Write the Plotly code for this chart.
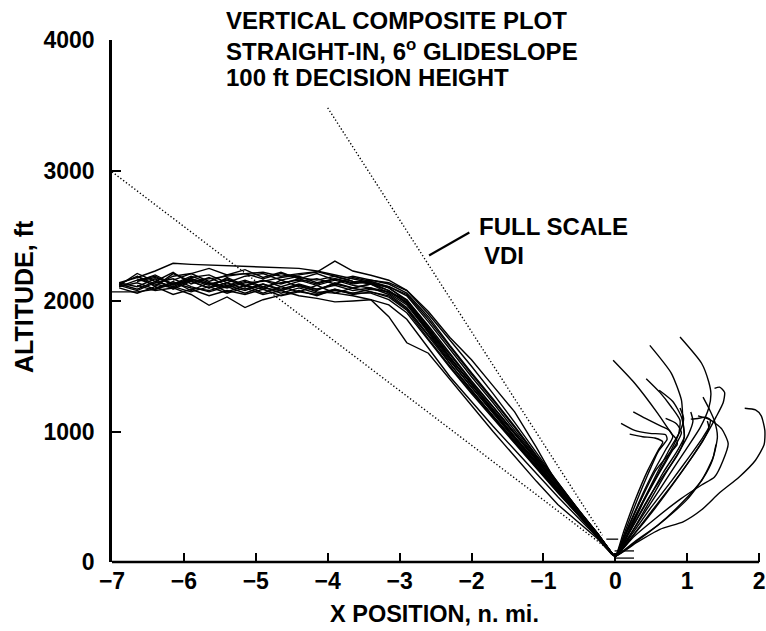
import plotly.graph_objects as go

# ---------------- data ----------------
# common x positions (n. mi.) for the approach part of each run
APPROACH_X = [-7.0, -6.9, -6.65, -6.4, -6.15, -5.9, -5.65, -5.4, -5.15, -4.9, -4.65, -4.4,
              -4.15, -3.9, -3.65, -3.4, -3.15, -2.9, -2.6, -2.3, -2.0, -1.7, -1.4, -1.1,
              -0.8, -0.5, -0.25, -0.05]

# altitude (ft) of each run along APPROACH_X (None = run not yet started)
RUN_01_Y = [None, 2130, 2190, 2110, 2210, 2150, 2100, 2180, 2120, 2090, 2160, 2110, 2080, 2140, 2100, 2130, 2060, 1970, 1760, 1550, 1340, 1150, 950, 760, 560, 370, 210, 70]
RUN_02_Y = [2070, 2070, 2070, 2090, 2150, 2080, 2140, 2070, 2120, 2060, 2110, 2070, 2120, 2060, 2100, 2070, 2040, 1940, 1730, 1520, 1320, 1120, 930, 740, 550, 360, 200, 65]
RUN_03_Y = [None, 2140, 2180, 2230, 2289, 2281, 2276, 2273, 2270, 2262, 2255, 2250, 2230, 2200, 2170, 2140, 2100, 2010, 1810, 1600, 1390, 1190, 990, 790, 590, 390, 220, 70]
RUN_04_Y = [None, None, 2120, 2080, 2100, 2050, 1967, 2031, 1950, 2010, 2045, 2080, 2040, 2090, 2060, 2060, 2010, 1910, 1700, 1490, 1290, 1100, 910, 720, 530, 350, 200, 65]
RUN_05_Y = [None, None, None, 2150, 2110, 2170, 2130, 2100, 2140, 2150, 2180, 2200, 2222, 2306, 2230, 2197, 2159, 2082, 1920, 1720, 1550, 1350, 1150, 880, 590, 380, 220, 70]
RUN_06_Y = [None, 2110, 2160, 2190, 2120, 2180, 2200, 2140, 2190, 2210, 2160, 2190, 2140, 2170, 2130, 2150, 2110, 2040, 1840, 1630, 1420, 1220, 1010, 800, 590, 380, 215, 70]
RUN_07_Y = [None, 2120, 2211, 2150, 2220, 2130, 2180, 2120, 2160, 2110, 2140, 2160, 2120, 2160, 2120, 2100, 2050, 1950, 1740, 1540, 1340, 1140, 940, 750, 550, 360, 200, 65]
RUN_08_Y = [None, 2100, 2060, 2110, 2050, 2090, 2040, 2080, 2050, 2090, 2040, 2070, 2050, 2080, 2060, 2090, 2070, 2010, 1800, 1570, 1360, 1160, 960, 770, 570, 380, 215, 70]
RUN_09_Y = [None, None, 2150, 2200, 2130, 2190, 2140, 2110, 2150, 2100, 2080, 2120, 2070, 2060, 2040, 2010, 1880, 1680, 1600, 1400, 1200, 1000, 810, 620, 440, 300, 180, 60]
RUN_10_Y = [None, 2130, 2090, 2150, 2110, 2070, 2110, 2060, 2100, 2050, 2080, 2040, 2020, 1993, 2000, 2010, 1970, 1860, 1640, 1420, 1230, 1040, 860, 680, 500, 330, 190, 60]
RUN_11_Y = [None, None, None, None, 2160, 2210, 2250, 2200, 2240, 2180, 2220, 2170, 2210, 2160, 2190, 2160, 2130, 2060, 1880, 1660, 1450, 1250, 1040, 820, 610, 390, 220, 70]
RUN_12_Y = [None, 2140, 2110, 2170, 2090, 2150, 2100, 2140, 2090, 2130, 2090, 2130, 2090, 2130, 2100, 2130, 2080, 1990, 1780, 1570, 1360, 1160, 960, 760, 560, 370, 210, 70]
RUN_13_Y = [None, None, 2170, 2120, 2190, 2210, 2150, 2200, 2210, 2170, 2210, 2180, 2160, 2190, 2150, 2140, 2080, 1980, 1770, 1560, 1370, 1170, 980, 780, 580, 380, 215, 70]
RUN_14_Y = [None, 2120, 2080, 2140, 2170, 2110, 2070, 2110, 2060, 2110, 2060, 2100, 2060, 2090, 2050, 2070, 2030, 1930, 1710, 1500, 1300, 1110, 920, 730, 540, 355, 200, 65]
RUN_15_Y = [None, None, 2190, 2130, 2100, 2160, 2120, 2170, 2110, 2160, 2110, 2150, 2170, 2130, 2180, 2150, 2100, 2000, 1790, 1590, 1380, 1190, 990, 790, 590, 390, 220, 70]
RUN_16_Y = [None, 2110, 2140, 2090, 2130, 2150, 2170, 2190, 2210, 2220, 2190, 2210, 2225, 2190, 2150, 2130, 2110, 2050, 1860, 1650, 1440, 1240, 1030, 810, 600, 390, 220, 70]
RUN_17_Y = [None, None, None, 2100, 2140, 2100, 2080, 2120, 2080, 2130, 2080, 2120, 2090, 2120, 2080, 2100, 2070, 1990, 1760, 1520, 1310, 1120, 920, 730, 540, 360, 205, 65]
RUN_18_Y = [None, None, 2150, 2180, 2130, 2170, 2130, 2160, 2120, 2160, 2130, 2170, 2130, 2170, 2140, 2160, 2140, 2080, 1900, 1700, 1500, 1290, 1070, 840, 610, 390, 220, 70]

# missed-approach (go-around) part of runs, x (n. mi.) and altitude (ft)
MA_01_X = [0.0, 0.16, 0.36, 0.56, 0.75, 0.86, 0.85, 0.78, 0.59, 0.27, -0.03]
MA_01_Y = [45, 240, 480, 700, 830, 900, 940, 986, 1139, 1370, 1546]
MA_02_X = [0.0, 0.2, 0.42, 0.64, 0.82, 0.92, 0.96, 0.94, 0.92, 0.78, 0.48]
MA_02_Y = [45, 230, 450, 640, 780, 880, 960, 1086, 1240, 1446, 1660]
MA_03_X = [0.0, 0.22, 0.48, 0.74, 0.98, 1.18, 1.3, 1.33, 1.3, 1.2, 0.9]
MA_03_Y = [45, 220, 440, 660, 860, 1030, 1180, 1290, 1379, 1523, 1724]
MA_04_X = [0.0, 0.3, 0.62, 0.95, 1.2, 1.45, 1.72, 1.95, 2.07, 2.08, 2.03, 1.95, 1.8]
MA_04_Y = [45, 150, 250, 310, 400, 530, 650, 780, 900, 1009, 1120, 1165, 1178]
MA_05_X = [0.0, 0.25, 0.55, 0.9, 1.2, 1.38, 1.5, 1.57, 1.48, 1.32, 1.15]
MA_05_Y = [45, 190, 330, 480, 590, 651, 780, 907, 1020, 1090, 1120]
MA_06_X = [0.0, 0.28, 0.59, 0.92, 1.2, 1.36, 1.42, 1.38, 1.3, 1.22]
MA_06_Y = [45, 160, 281, 450, 626, 800, 960, 1080, 1180, 1264]
MA_07_X = [0.0, 0.14, 0.3, 0.46, 0.6, 0.72, 0.7, 0.48, 0.27, 0.08]
MA_07_Y = [45, 240, 470, 680, 850, 940, 975, 986, 1009, 1063]
MA_08_X = [0.0, 0.15, 0.33, 0.52, 0.7, 0.8, 0.75, 0.6, 0.42, 0.25]
MA_08_Y = [45, 230, 460, 680, 860, 960, 1010, 1050, 1100, 1150]
MA_09_X = [0.0, 0.18, 0.4, 0.6, 0.78, 0.88, 0.9, 0.78, 0.62, 0.43]
MA_09_Y = [45, 250, 480, 680, 860, 980, 1086, 1188, 1300, 1405]
MA_10_X = [0.0, 0.2, 0.44, 0.66, 0.86, 0.96, 0.92, 0.8, 0.61]
MA_10_Y = [45, 230, 460, 680, 850, 958, 1111, 1230, 1316]
MA_11_X = [0.0, 0.24, 0.5, 0.78, 1.02, 1.2, 1.3, 1.32, 1.25, 1.15, 1.05]
MA_11_Y = [45, 220, 420, 620, 800, 940, 1030, 1090, 1110, 1100, 1095]
MA_12_X = [0.0, 0.24, 0.52, 0.8, 1.05, 1.25, 1.4, 1.5, 1.52, 1.45, 1.38]
MA_12_Y = [45, 200, 400, 600, 790, 960, 1110, 1220, 1300, 1340, 1330]
MA_13_X = [0.0, 0.12, 0.28, 0.45, 0.6, 0.66, 0.55, 0.38, 0.2]
MA_13_Y = [45, 240, 480, 700, 860, 920, 950, 960, 980]
MA_14_X = [0.0, 0.35, 0.7, 1.0, 1.22, 1.35, 1.4]
MA_14_Y = [45, 180, 330, 480, 640, 780, 900]
MA_15_X = [0.0, 0.18, 0.38, 0.58, 0.75, 0.9, 0.95, 0.9]
MA_15_Y = [45, 230, 460, 680, 860, 1000, 1100, 1180]
MA_16_X = [0.0, 0.22, 0.45, 0.68, 0.88, 1.02, 1.08, 1.05]
MA_16_Y = [45, 220, 440, 660, 840, 980, 1080, 1150]
MA_17_X = [0.0, 0.2, 0.4, 0.62, 0.8, 0.92, 0.85, 0.7]
MA_17_Y = [45, 240, 470, 690, 860, 990, 1060, 1100]
MA_18_X = [0.0, 0.26, 0.55, 0.82, 1.05, 1.22, 1.3, 1.28]
MA_18_Y = [45, 210, 410, 610, 790, 930, 1030, 1080]

# full-scale VDI limits (dotted lines)
VDI_LOW_X = [-7.0, -0.08]
VDI_LOW_Y = [2990, 90]
VDI_HIGH_X = [-4.0, -0.18]
VDI_HIGH_Y = [3480, 205]

# short bars near the decision height
DH_BARS_X = [[-0.125, 0.04], [-0.01, 0.26], [-0.01, 0.26]]
DH_BARS_Y = [[175, 175], [85, 85], [30, 30]]

X_TICKS = [-7, -6, -5, -4, -3, -2, -1, 0, 1, 2]
X_TICK_TEXT = ["\u22127", "\u22126", "\u22125", "\u22124", "\u22123", "\u22122", "\u22121", "0", "1", "2"]
Y_TICKS = [0, 1000, 2000, 3000, 4000]
Y_TICK_TEXT = ["0", "1000", "2000", "3000", "4000"]

X_RANGE = [-7.0, 2.096]
Y_RANGE = [0, 4000]

# --------------- figure ---------------
FONT = "Liberation Sans, Arial, sans-serif"
fig = go.Figure()

runs = [RUN_01_Y, RUN_02_Y, RUN_03_Y, RUN_04_Y, RUN_05_Y, RUN_06_Y, RUN_07_Y, RUN_08_Y, RUN_09_Y,
        RUN_10_Y, RUN_11_Y, RUN_12_Y, RUN_13_Y, RUN_14_Y, RUN_15_Y, RUN_16_Y, RUN_17_Y, RUN_18_Y]
missed = [(MA_01_X, MA_01_Y), (MA_02_X, MA_02_Y), (MA_03_X, MA_03_Y), (MA_04_X, MA_04_Y),
          (MA_05_X, MA_05_Y), (MA_06_X, MA_06_Y), (MA_07_X, MA_07_Y), (MA_08_X, MA_08_Y),
          (MA_09_X, MA_09_Y), (MA_10_X, MA_10_Y), (MA_11_X, MA_11_Y), (MA_12_X, MA_12_Y),
          (MA_13_X, MA_13_Y), (MA_14_X, MA_14_Y), (MA_15_X, MA_15_Y), (MA_16_X, MA_16_Y),
          (MA_17_X, MA_17_Y), (MA_18_X, MA_18_Y)]

LW = 1.4
for i, ry in enumerate(runs):
    xs = [x for x, y in zip(APPROACH_X, ry) if y is not None]
    ys = [y for y in ry if y is not None]
    fig.add_trace(go.Scatter(x=xs, y=ys, mode="lines",
                             line=dict(color="black", width=LW), hoverinfo="skip"))
    if i < len(missed):
        mx = [xs[-1]] + list(missed[i][0])
        my = [ys[-1]] + list(missed[i][1])
        fig.add_trace(go.Scatter(x=mx, y=my, mode="lines",
                                 line=dict(color="black", width=LW, shape="spline", smoothing=0.6),
                                 hoverinfo="skip"))

for vx, vy in [(VDI_LOW_X, VDI_LOW_Y), (VDI_HIGH_X, VDI_HIGH_Y)]:
    fig.add_trace(go.Scatter(x=vx, y=vy, mode="lines",
                             line=dict(color="black", width=1.4, dash="1.3px,2.2px"),
                             hoverinfo="skip"))

for bx, by in zip(DH_BARS_X, DH_BARS_Y):
    fig.add_trace(go.Scatter(x=bx, y=by, mode="lines",
                             line=dict(color="black", width=1.3), hoverinfo="skip"))

tickfont = dict(family=FONT, size=23, color="black", weight="bold")

fig.update_xaxes(range=X_RANGE, tickvals=X_TICKS, ticktext=X_TICK_TEXT,
                 ticks="inside", ticklen=9, tickwidth=2, tickcolor="black",
                 showline=False, showgrid=False, zeroline=False, automargin=False,
                 tickfont=tickfont, ticklabelstandoff=3)
fig.update_yaxes(range=Y_RANGE, tickvals=Y_TICKS, ticktext=Y_TICK_TEXT,
                 ticks="inside", ticklen=9, tickwidth=2, tickcolor="black",
                 showline=True, linewidth=2.5, linecolor="black",
                 showgrid=False, zeroline=False, automargin=False,
                 tickfont=tickfont, ticklabelstandoff=10)

# bottom axis line ends at x = 2
x_end_paper = (X_TICKS[-1] - X_RANGE[0]) / (X_RANGE[1] - X_RANGE[0])
fig.add_shape(type="line", xref="paper", yref="paper", x0=0, x1=x_end_paper, y0=0, y1=0,
              line=dict(color="black", width=2.5))

# leader line for FULL SCALE VDI label
fig.add_shape(type="line", xref="x", yref="y", x0=-2.59, y0=2349, x1=-2.03, y1=2525,
              line=dict(color="black", width=2.2))

W, H = 766, 631
ML, MR, MT, MB = 112, 0, 40, 69
PW, PH = W - ML - MR, H - MT - MB


def px(xp):
    return (xp - ML) / PW


def py(yp):
    return (H - MB - yp) / PH


def label(text, x, y, size=24, xanchor="left", angle=0):
    fig.add_annotation(text=text, xref="paper", yref="paper", x=px(x), y=py(y),
                       xanchor=xanchor, yanchor="middle", showarrow=False, textangle=angle,
                       font=dict(family=FONT, size=size, color="black", weight="bold"))


label("VERTICAL COMPOSITE PLOT", 224, 21)
label("STRAIGHT-IN, 6<sup>o</sup> GLIDESLOPE", 224, 50)
label("100 ft DECISION HEIGHT", 224, 78)
label("FULL SCALE", 477, 226)
label("VDI", 482, 255)
label("X POSITION, n. mi.", 328, 614, size=23.5)
label("ALTITUDE, ft", 24, 297, size=25, xanchor="center", angle=-90)

fig.update_layout(width=W, height=H, margin=dict(l=ML, r=MR, t=MT, b=MB, autoexpand=False),
                  plot_bgcolor="white", paper_bgcolor="white", showlegend=False)

fig.write_html("out.html", config={"displayModeBar": False},
               post_script="document.body.style.margin='0';document.body.style.overflow='hidden';")
